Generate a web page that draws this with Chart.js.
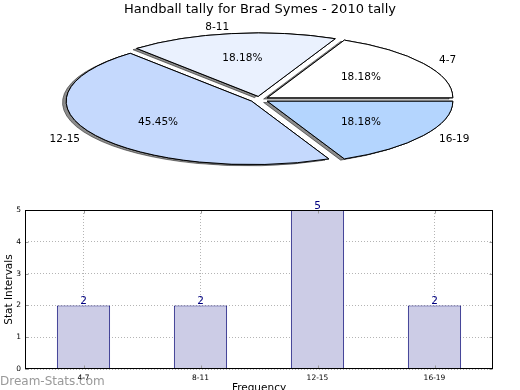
<!DOCTYPE html>
<html>
<head>
<meta charset="utf-8">
<script src="https://cdn.jsdelivr.net/npm/chart.js@4.4.0/dist/chart.umd.min.js"></script>
<style>
html, body { margin: 0; padding: 0; background: #fff; overflow: hidden; width: 520px; height: 390px; }
#pie { position: absolute; left: 0; top: 0; }
#bar { position: absolute; left: 0; top: 190px; }
#mark { position: absolute; left: 0; top: 374px; font: 12px "DejaVu Sans", sans-serif; line-height: 14px; color: #999; }
</style>
</head>
<body>
<canvas id="pie" width="520" height="190"></canvas>
<canvas id="bar" width="520" height="210"></canvas>
<div id="mark">Dream-Stats.com</div>
<script>
const chartTitle = 'Handball tally for Brad Symes - 2010 tally'
const categories = ['4-7', '8-11', '12-15', '16-19']
const counts = [2, 2, 5, 2]
const yTicks = [0, 1, 2, 3, 4, 5]

const sliceColors = ['#ffffff', '#eaf1fe', '#c5d9fd', '#b4d5fe']
const family = '"DejaVu Sans", sans-serif'

// matplotlib squashes the pie into an ellipse, so draw the arcs through a scaled ctx
const pieCenter = {x: 259.5, y: 99.5}
const pieRx = 185.5
const pieRy = 63.4
const explode = 0.05

const ellipsePie = {
    id: 'ellipsePie',
    beforeDatasetsDraw: (chart) => {
        const ctx = chart.ctx
        const meta = chart.getDatasetMeta(0)
        const dpr = chart.currentDevicePixelRatio
        const total = counts.reduce((a, b) => a + b, 0)

        // keep the outline 1px even though the path is stretched
        const origStroke = ctx.stroke
        ctx.stroke = function () {
            this.save()
            this.setTransform(dpr, 0, 0, dpr, 0, 0)
            origStroke.apply(this, arguments)
            this.restore()
        }

        meta.data.forEach((arc) => {
            const r = arc.outerRadius
            const mid = (arc.startAngle + arc.endAngle) / 2
            // shadow pass first, then the wedge itself on top
            for (let pass = 0; pass < 2; pass++) {
                ctx.save()
                if (pass === 0) {
                    ctx.shadowColor = 'rgba(0,0,0,0.45)'
                    ctx.shadowOffsetX = -0.02 * pieRx
                    ctx.shadowOffsetY = 0.02 * pieRy
                }
                ctx.translate(pieCenter.x, pieCenter.y)
                ctx.scale(pieRx / r, -pieRy / r)
                ctx.translate(Math.cos(mid) * explode * r - arc.x, Math.sin(mid) * explode * r - arc.y)
                arc.draw(ctx)
                ctx.restore()
            }
        })
        delete ctx.stroke

        ctx.save()
        ctx.fillStyle = '#000'
        ctx.font = '10.5px ' + family
        ctx.textBaseline = 'middle'
        meta.data.forEach((arc, i) => {
            const mid = (arc.startAngle + arc.endAngle) / 2
            const c = Math.cos(mid)
            const s = Math.sin(mid)
            const at = (d) => ({
                x: pieCenter.x + pieRx * (explode + d) * c,
                y: pieCenter.y - pieRy * (explode + d) * s
            })
            const lp = at(1.1)
            ctx.textAlign = c > 0 ? 'left' : 'right'
            ctx.fillText(categories[i], lp.x, lp.y)
            const pp = at(0.6)
            ctx.textAlign = 'center'
            ctx.fillText((counts[i] / total * 100).toFixed(2) + '%', pp.x, pp.y)
        })
        ctx.restore()
        return false
    }
}

new Chart(document.getElementById('pie'), {
    type: 'pie',
    data: {
        labels: categories,
        datasets: [{
            data: counts,
            backgroundColor: sliceColors,
            borderColor: '#000',
            borderWidth: 1,
            borderJoinStyle: 'miter'
        }]
    },
    options: {
        responsive: false,
        animation: false,
        events: [],
        rotation: 90,
        radius: 100,
        plugins: {
            legend: {display: false},
            tooltip: {enabled: false},
            title: {
                display: true,
                text: chartTitle,
                color: '#000',
                font: {family: family, size: 13, weight: 'normal'},
                padding: {top: 2, bottom: 0}
            }
        }
    },
    plugins: [ellipsePie]
})

const frame = {
    id: 'frame',
    afterDraw: (chart) => {
        const ctx = chart.ctx
        const a = chart.chartArea
        const L = Math.round(a.left) + 0.5
        const T = Math.round(a.top) + 0.5
        const R = Math.round(a.right) - 0.5
        const B = Math.round(a.bottom) - 0.5
        ctx.save()

        // small inward ticks, like the old matplotlib style
        ctx.strokeStyle = '#999'
        ctx.lineWidth = 1
        ctx.beginPath()
        yTicks.forEach((v) => {
            const y = Math.round(chart.scales.y.getPixelForValue(v)) + 0.5
            ctx.moveTo(L, y); ctx.lineTo(L + 3, y)
            ctx.moveTo(R, y); ctx.lineTo(R - 3, y)
        })
        categories.forEach((c, i) => {
            const x = Math.round(chart.scales.x.getPixelForValue(i)) + 0.5
            ctx.moveTo(x, B); ctx.lineTo(x, B - 3)
            ctx.moveTo(x, T); ctx.lineTo(x, T + 3)
        })
        ctx.stroke()

        ctx.strokeStyle = '#000'
        ctx.strokeRect(L, T, R - L, B - T)

        ctx.fillStyle = '#000080'
        ctx.font = '10.5px ' + family
        ctx.textAlign = 'center'
        ctx.textBaseline = 'alphabetic'
        chart.getDatasetMeta(0).data.forEach((bar, i) => {
            ctx.fillText(String(counts[i]), bar.x, bar.y - 1)
        })
        ctx.restore()
    }
}

const gridOpts = {color: '#b4b4b4', drawTicks: false, lineWidth: 1}

new Chart(document.getElementById('bar'), {
    type: 'bar',
    data: {
        labels: categories,
        datasets: [{
            data: counts,
            backgroundColor: '#ccccE6',
            borderColor: '#1a1a80',
            borderWidth: 1,
            categoryPercentage: 1,
            barPercentage: 0.455
        }]
    },
    options: {
        responsive: false,
        animation: false,
        events: [],
        layout: {padding: {top: 20, right: 27, left: 0, bottom: 0}},
        plugins: {
            legend: {display: false},
            tooltip: {enabled: false}
        },
        scales: {
            x: {
                z: 1,
                offset: true,
                grid: Object.assign({offset: false}, gridOpts),
                border: {display: false, dash: [1, 2]},
                ticks: {color: '#000', font: {family: family, size: 7.5}, padding: 5},
                title: {
                    display: true,
                    text: 'Frequency',
                    color: '#000',
                    font: {family: family, size: 10.5},
                    padding: {top: 0, bottom: 5}
                },
                afterFit: (s) => { s.height = 31 }
            },
            y: {
                z: 1,
                min: 0,
                max: 5,
                afterBuildTicks: (s) => { s.ticks = yTicks.map(v => ({value: v})) },
                grid: gridOpts,
                border: {display: false, dash: [1, 2]},
                ticks: {color: '#000', font: {family: family, size: 7.5}, padding: 4},
                title: {
                    display: true,
                    text: 'Stat Intervals',
                    color: '#000',
                    font: {family: family, size: 10.5},
                    padding: {top: 2.5, bottom: 0}
                },
                afterFit: (s) => { s.width = 25 }
            }
        }
    },
    plugins: [frame]
})
</script>
</body>
</html>
